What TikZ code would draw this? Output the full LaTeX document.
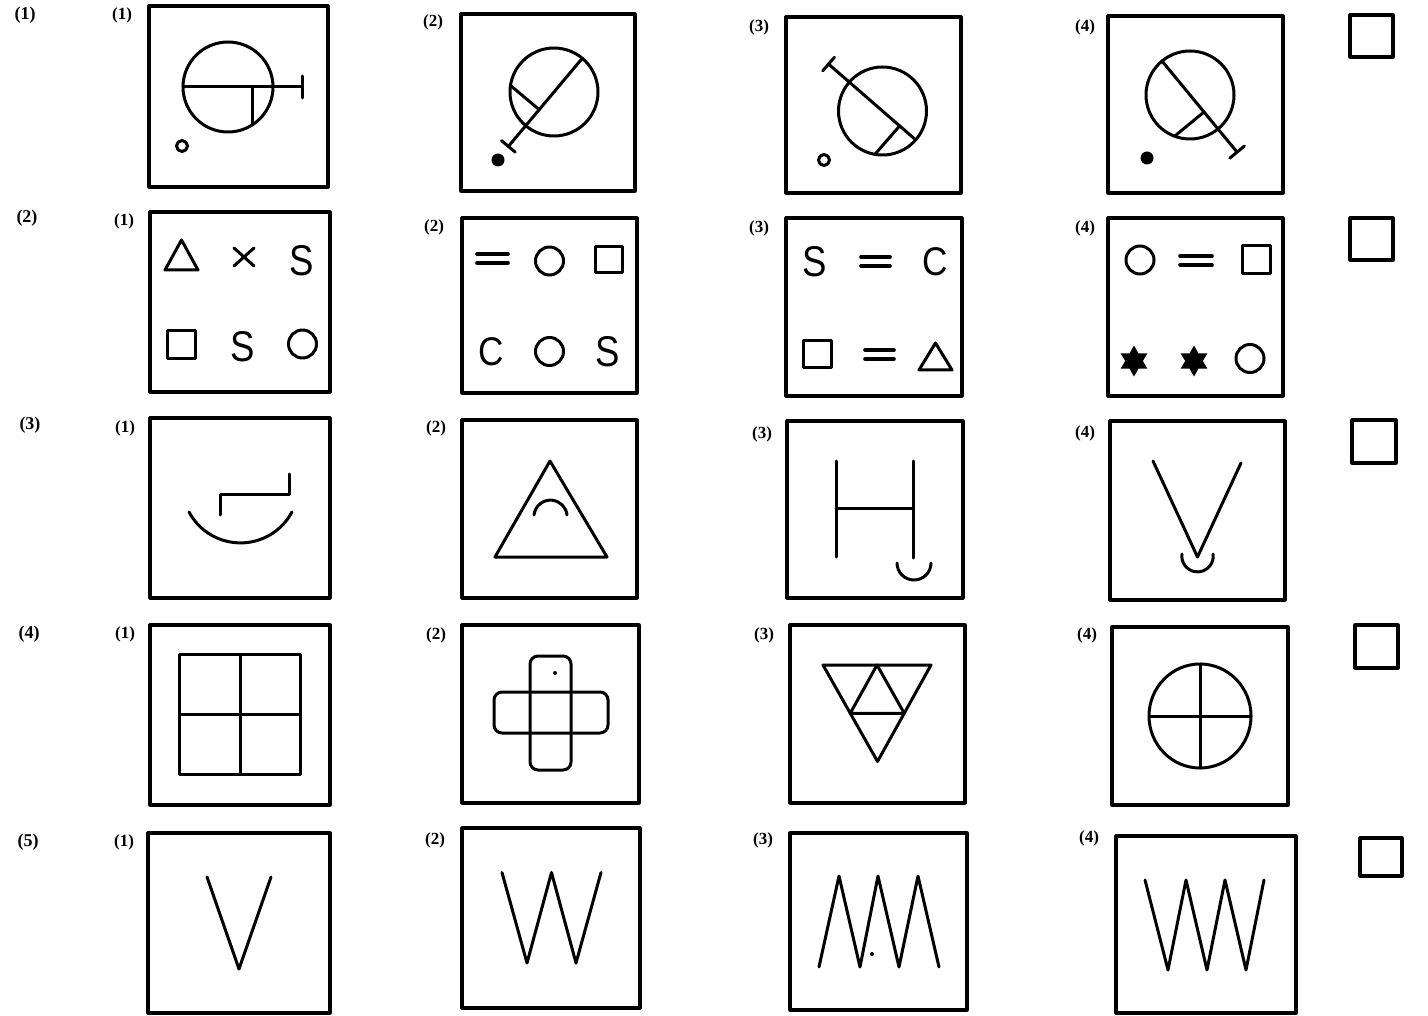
\documentclass[tikz,border=0pt]{standalone}
\usepackage{fontspec}
\setmainfont{Liberation Serif}
\newfontfamily\glyphfont{Liberation Sans}
\usetikzlibrary{calc,shapes.geometric}
\begin{document}
\begin{tikzpicture}[x=1pt,y=-1pt,
  frame/.style={line width=3.2pt, line join=round},
  fig/.style={line width=3pt, line cap=round, line join=round},
  zig/.style={line width=3pt, line cap=round, line join=round},
  lab/.style={font=\bfseries\fontsize{17}{17}\selectfont, inner sep=0pt},
  rowlab/.style={font=\bfseries\fontsize{18}{18}\selectfont, inner sep=0pt},
  glyphs/.style={font=\glyphfont\fontsize{43}{43}\selectfont, inner sep=0pt, xscale=0.85},
  glyphc/.style={font=\glyphfont\fontsize{40}{40}\selectfont, inner sep=0pt, xscale=0.88},
  hexstar/.style={star, star points=6, star point ratio=1.75, fill=black, minimum size=31pt, inner sep=0pt}
]
\useasboundingbox (0,0) rectangle (1428,1016);

% ---------- row labels ----------
\node[rowlab] (r1) at (25,15) {(1)};
\node[rowlab] (r2) at (27,218) {(2)};
\node[rowlab] (r3) at (30,425) {(3)};
\node[rowlab] (r4) at (29,634) {(4)};
\node[rowlab] (r5) at (28,842) {(5)};

% ---------- option labels ----------
\node[lab] (l11) at (122,15) {(1)};
\node[lab] (l12) at (433,22) {(2)};
\node[lab] (l13) at (759,27) {(3)};
\node[lab] (l14) at (1085,27) {(4)};
\node[lab] (l21) at (124,221) {(1)};
\node[lab] (l22) at (434,227) {(2)};
\node[lab] (l23) at (759,228) {(3)};
\node[lab] (l24) at (1085,228) {(4)};
\node[lab] (l31) at (125,428) {(1)};
\node[lab] (l32) at (436,428) {(2)};
\node[lab] (l33) at (762,434) {(3)};
\node[lab] (l34) at (1085,433) {(4)};
\node[lab] (l41) at (125,634) {(1)};
\node[lab] (l42) at (436,635) {(2)};
\node[lab] (l43) at (764,635) {(3)};
\node[lab] (l44) at (1087,635) {(4)};
\node[lab] (l51) at (124,842) {(1)};
\node[lab] (l52) at (435,840) {(2)};
\node[lab] (l53) at (763,840) {(3)};
\node[lab] (l54) at (1089,838) {(4)};

% ---------- frames ----------
\draw[frame] (149,6) rectangle (328,187);
\draw[frame] (461,14) rectangle (635,191);
\draw[frame] (786,17) rectangle (961,193);
\draw[frame] (1108,16) rectangle (1283,193);
\draw[frame] (1350,15) rectangle (1393,57);

\draw[frame] (150,212) rectangle (330,392);
\draw[frame] (462,218) rectangle (637,393);
\draw[frame] (786,218) rectangle (962,396);
\draw[frame] (1108,218) rectangle (1283,396);
\draw[frame] (1350,218) rectangle (1393,260);

\draw[frame] (150,418) rectangle (330,598);
\draw[frame] (462,420) rectangle (637,598);
\draw[frame] (787,421) rectangle (963,598);
\draw[frame] (1110,421) rectangle (1285,600);
\draw[frame] (1352,420) rectangle (1396,463);

\draw[frame] (150,625) rectangle (330,805);
\draw[frame] (462,625) rectangle (639,803);
\draw[frame] (790,625) rectangle (965,803);
\draw[frame] (1112,627) rectangle (1288,805);
\draw[frame] (1355,625) rectangle (1398,668);

\draw[frame] (148,833) rectangle (330,1013);
\draw[frame] (462,828) rectangle (640,1008);
\draw[frame] (790,833) rectangle (967,1010);
\draw[frame] (1116,836) rectangle (1296,1013);
\draw[frame] (1360,838) rectangle (1402,876);

% ---------- row 1 ----------
\coordinate (c11) at (228,87);
\draw[fig] (c11) circle[radius=45pt];
\draw[fig] ($(c11)+(180:45pt)$) -- ($(c11)+(0:74pt)$);
\draw[fig] ($(c11)+(0:74pt)+(90:11pt)$) -- ($(c11)+(0:74pt)+(270:11pt)$);
\draw[fig] ($(c11)+(0:24pt)$) -- ($(c11)+(0:24pt)+(270:38pt)$);
\draw[fig] (182,146) circle[radius=5.5pt];

\coordinate (c12) at (554,92);
\draw[fig] (c12) circle[radius=44pt];
\draw[fig] ($(c12)+(50:44pt)$) -- ($(c12)+(230:71pt)$);
\draw[fig] ($(c12)+(230:71pt)+(140:9pt)$) -- ($(c12)+(230:71pt)+(320:9pt)$);
\draw[fig] ($(c12)+(230:23pt)$) -- ($(c12)+(230:23pt)+(140:37.5pt)$);
\fill (498,160) circle[radius=6.5pt];

\coordinate (c13) at (882.5,111);
\draw[fig] (c13) circle[radius=44pt];
\draw[fig] ($(c13)+(319:44pt)$) -- ($(c13)+(139:71.5pt)$);
\draw[fig] ($(c13)+(139:71.5pt)+(49:9pt)$) -- ($(c13)+(139:71.5pt)+(229:9pt)$);
\draw[fig] ($(c13)+(319:22.7pt)$) -- ($(c13)+(319:22.7pt)+(229:37.7pt)$);
\draw[fig] (824,160) circle[radius=5.5pt];

\coordinate (c14) at (1190,95);
\draw[fig] (c14) circle[radius=44pt];
\draw[fig] ($(c14)+(129.5:44pt)$) -- ($(c14)+(309.5:74pt)$);
\draw[fig] ($(c14)+(309.5:74pt)+(39.5:9.5pt)$) -- ($(c14)+(309.5:74pt)+(219.5:9.5pt)$);
\draw[fig] ($(c14)+(309.5:22pt)$) -- ($(c14)+(309.5:22pt)+(219.5:38.1pt)$);
\fill (1147,158) circle[radius=6.5pt];

% ---------- row 2 ----------
\draw[fig] (181.5,240) -- (198,270) -- (165,270) -- cycle;
\draw[fig] (234,248) -- (254,266) (234,266) -- (254,248);
\node[glyphs] (s21a) at (302,261) {S};
\draw[fig] (167,331) rectangle (195,359);
\node[glyphs] (s21b) at (242.5,347) {S};
\draw[fig] (302.5,344) circle[radius=14pt];

\draw[fig, line width=3.6pt] (477,254) -- (508,254) (477,263) -- (508,263);
\draw[fig] (549.5,261) circle[radius=14pt];
\draw[fig] (595.5,247) rectangle (622.5,273);
\node[glyphc] (c22a) at (491,351.5) {C};
\draw[fig] (549.5,351.5) circle[radius=14pt];
\node[glyphs] (s22a) at (608,352) {S};

\node[glyphs] (s23a) at (814.5,262) {S};
\draw[fig, line width=3.6pt] (861,257) -- (890,257) (861,266) -- (890,266);
\node[glyphc] (c23a) at (935,262) {C};
\draw[fig] (803,340.5) rectangle (831,367.5);
\draw[fig, line width=3.6pt] (865,350) -- (894,350) (865,359) -- (894,359);
\draw[fig] (935.5,343) -- (952,370) -- (919,370) -- cycle;

\draw[fig] (1140,260) circle[radius=14pt];
\draw[fig, line width=3.6pt] (1180,256) -- (1212,256) (1180,265) -- (1212,265);
\draw[fig] (1242,246) rectangle (1270,274);
\node[hexstar] (st1) at (1134,361) {};
\node[hexstar] (st2) at (1194,361) {};
\draw[fig] (1250,358.5) circle[radius=14pt];

% ---------- row 3 ----------
\draw[fig] (189,512) arc[start angle=208, end angle=332, radius=58.3pt];
\draw[fig] (220,515) -- (220,494) -- (289,494) -- (289,474);

\draw[fig] (550,461) -- (607,557) -- (495,557) -- cycle;
\draw[fig] (534,515) arc[start angle=174, end angle=6, radius=16.6pt];

\draw[fig] (836,461) -- (836,557);
\draw[fig] (913,461) -- (913,558);
\draw[fig] (836,508.5) -- (913,508.5);
\draw[fig] (897,563) arc[start angle=180, end angle=360, radius=17pt];

\draw[zig] (1153,461) -- (1197.5,557) -- (1241,463);
\draw[fig] (1182,554) arc[start angle=172, end angle=368, radius=15.7pt];

% ---------- row 4 ----------
\draw[fig] (179.5,654.6) rectangle (300.5,774);
\draw[fig] (240.5,654.6) -- (240.5,774);
\draw[fig] (179.5,714) -- (300.5,714);

\draw[fig, rounded corners=8pt] (530,656) rectangle (571,770);
\draw[fig, rounded corners=8pt] (494,692) rectangle (608,733);
\fill (555,673) circle[radius=2pt];

\draw[fig] (823,665) -- (931,665) -- (877.5,761.5) -- cycle;
\draw[fig] (877,665) -- (850.25,713.25) -- (904.25,713.25) -- cycle;

\draw[fig] (1200,716) ellipse[x radius=51pt, y radius=52pt];
\draw[fig] (1149,716) -- (1251,716);
\draw[fig] (1200,664) -- (1200,768);

% ---------- row 5 ----------
\draw[zig] (207,877) -- (239,969) -- (271,877);
\draw[zig] (502,872.5) -- (527,963) -- (551.5,872.5) -- (576,963) -- (601,872.5);
\draw[zig] (819,967) -- (839,876) -- (860,967) -- (878,876) -- (899,967) -- (918,876) -- (939,967);
\fill (872,954) circle[radius=2pt];
\draw[zig] (1145,880) -- (1168,970) -- (1186,880) -- (1207,970) -- (1225,880) -- (1246,970) -- (1264,880);

\end{tikzpicture}
\end{document}
